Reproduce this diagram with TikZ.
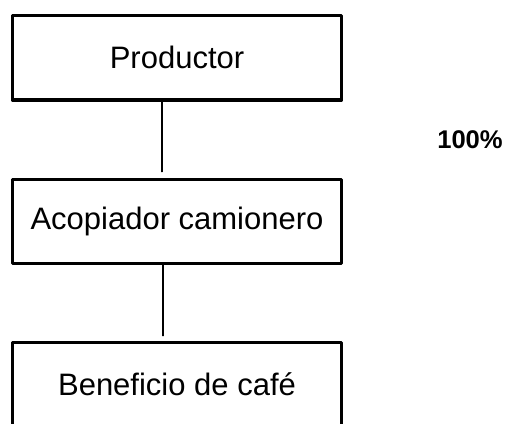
\documentclass[tikz,border=0pt]{standalone}
\usepackage{fontspec}
\setmainfont{Liberation Sans}
\usepackage{tikz}
\usetikzlibrary{arrows}

\begin{document}
\begin{tikzpicture}[line cap=round,line join=round,x=0.5pt,y=-0.5pt,
  box/.style={draw,line width=1.6pt,line cap=rect,minimum width=164.5pt,minimum height=42.2pt,inner sep=0pt,font=\fontsize{15.5}{18}\selectfont},
  conn/.style={line width=0.6pt}]
\useasboundingbox (0,0) rectangle (507,423);
\node [box] (prod) at (177,57.8) {Productor};
\node [box] (acop) at (177,221.5) {Acopiador camionero};
\node [box] (bene) at (177,384.5) {Beneficio de café};
\draw [conn] ([xshift=-7.5pt]prod.south) -- ([xshift=-7.5pt,yshift=3pt]acop.north);
\draw [conn] ([xshift=-7pt]acop.south) -- ([xshift=-7pt,yshift=2.5pt]bene.north);
\node [font=\fontsize{12.8}{14}\bfseries] (pct) at (470,140) {100\%};
\end{tikzpicture}
\end{document}
